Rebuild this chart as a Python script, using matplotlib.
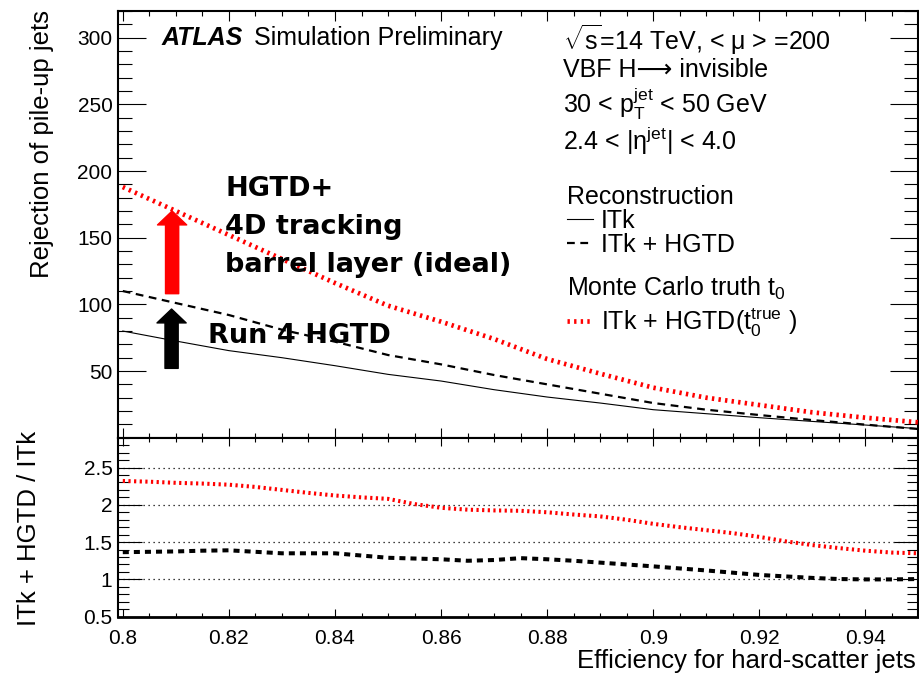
import matplotlib
matplotlib.use("Agg")
import matplotlib.pyplot as plt
from matplotlib.ticker import MultipleLocator, FuncFormatter
from matplotlib.lines import Line2D

plt.rcParams['font.family'] = ['Liberation Sans', 'DejaVu Sans']
plt.rcParams['mathtext.fontset'] = 'custom'
plt.rcParams['mathtext.rm'] = 'Liberation Sans'
plt.rcParams['mathtext.it'] = 'Liberation Sans:italic'
plt.rcParams['mathtext.bf'] = 'Liberation Sans:bold'

# ---------------- data ----------------
eff = [0.80, 0.81, 0.82, 0.83, 0.84, 0.85, 0.86, 0.87, 0.88, 0.89,
       0.90, 0.91, 0.92, 0.93, 0.94, 0.95]
rej_itk = [80, 72.5, 65.3, 60, 54, 47.5, 42.5, 36, 30.5, 26,
           21, 18, 15, 12.2, 9.5, 6.8]
rej_itk_hgtd = [110, 101, 92, 81, 72, 62, 55, 47, 40, 33,
                26, 21, 17, 13.2, 9.8, 6.5]
rej_itk_hgtd_true = [188, 170, 152, 134, 116, 99, 87, 74, 59, 48,
                     37.5, 30, 24.5, 19, 15, 11.5]

eff_ratio = [0.800, 0.805, 0.810, 0.815, 0.820, 0.825, 0.830, 0.835, 0.840, 0.845,
             0.850, 0.855, 0.860, 0.865, 0.870, 0.875, 0.880, 0.885, 0.890, 0.895,
             0.900, 0.905, 0.910, 0.915, 0.920, 0.925, 0.930, 0.935, 0.940, 0.945, 0.950]
ratio_hgtd = [1.365, 1.37, 1.375, 1.385, 1.39, 1.37, 1.35, 1.35, 1.35, 1.32,
              1.29, 1.28, 1.27, 1.25, 1.26, 1.285, 1.27, 1.25, 1.225, 1.20,
              1.175, 1.147, 1.12, 1.09, 1.06, 1.04, 1.02, 1.005, 1.0, 1.0, 1.005]
ratio_true = [2.32, 2.31, 2.295, 2.285, 2.27, 2.24, 2.20, 2.16, 2.125, 2.10,
              2.08, 2.01, 1.96, 1.935, 1.925, 1.92, 1.90, 1.87, 1.845, 1.80,
              1.745, 1.70, 1.66, 1.62, 1.57, 1.51, 1.46, 1.42, 1.385, 1.36, 1.35]

top_yticks = [50, 100, 150, 200, 250, 300]
ratio_yticks = [0.5, 1, 1.5, 2, 2.5]
x_ticks = [0.80, 0.82, 0.84, 0.86, 0.88, 0.90, 0.92, 0.94]

# ---------------- figure ----------------
W, H = 919, 676
fig = plt.figure(figsize=(W / 100, H / 100), dpi=100)

def fx(px):
    return px / W

def fy(py):
    return 1 - py / H

ax1 = fig.add_axes([fx(118), fy(437.7), 800 / W, (437.7 - 11) / H])
ax2 = fig.add_axes([fx(118), fy(616.7), 800 / W, (616.7 - 437.7) / H])

XMIN, XMAX = 0.7991, 0.9499

RED_LS = (0, (0.5, 0.9))
DASH_LS = (0, (3.5, 2.5))

# top panel
ax1.plot(eff, rej_itk, color='black', lw=0.8, zorder=3)
ax1.plot(eff, rej_itk_hgtd, color='black', lw=1.6, linestyle=DASH_LS, zorder=3)
ax1.plot(eff, rej_itk_hgtd_true, color='#ff0000', lw=3.4, linestyle=RED_LS,
         dash_capstyle='butt', zorder=3)
ax1.set_xlim(XMIN, XMAX)
ax1.set_ylim(0, 320)
ax1.set_yticks(top_yticks)
ax1.yaxis.set_minor_locator(MultipleLocator(10))
ax1.set_xticks(x_ticks)
ax1.xaxis.set_minor_locator(MultipleLocator(0.005))
ax1.tick_params(axis='x', labelbottom=False)
ax1.tick_params(which='both', direction='in', top=True, right=True, width=0.8)
ax1.tick_params(axis='y', which='major', length=20, labelsize=15, pad=4)
ax1.tick_params(axis='y', which='minor', length=10)
ax1.tick_params(axis='x', which='major', length=7)
ax1.tick_params(axis='x', which='minor', length=3.5)
for s in ax1.spines.values():
    s.set_linewidth(1.5)

# arrows
arrow_x = [0.8093, 0.8092]
arrow_tail = [108, 52]
arrow_tip = [170, 96.5]
arrow_col = ['#ff0000', 'black']
for xa, yt, yh, c in zip(arrow_x, arrow_tail, arrow_tip, arrow_col):
    ax1.annotate('', xy=(xa, yh), xytext=(xa, yt),
                 arrowprops=dict(arrowstyle='simple,head_length=1.0,head_width=2.1,tail_width=0.95',
                                 color=c, shrinkA=0, shrinkB=0, mutation_scale=10),
                 zorder=2)

# bottom panel
ax2.plot(eff_ratio, ratio_true, color='#ff0000', lw=2.9, linestyle=(0, (0.55, 0.85)),
         dash_capstyle='butt', zorder=3)
ax2.plot(eff_ratio, ratio_hgtd, color='black', lw=2.9, linestyle=(0, (1.5, 1.25)),
         dash_capstyle='butt', zorder=3)
ax2.set_xlim(XMIN, XMAX)
ax2.set_ylim(0.5, 2.9)
ax2.set_yticks(ratio_yticks)
ax2.yaxis.set_minor_locator(MultipleLocator(0.1))
ax2.yaxis.set_major_formatter(FuncFormatter(lambda v, p: '%g' % v))
ax2.set_xticks(x_ticks)
ax2.xaxis.set_major_formatter(FuncFormatter(lambda v, p: '%g' % round(v, 2)))
ax2.xaxis.set_minor_locator(MultipleLocator(0.005))
ax2.tick_params(which='both', direction='in', top=True, right=True, width=0.8)
ax2.tick_params(axis='y', which='major', length=17, labelsize=15, pad=4)
ax2.tick_params(axis='y', which='minor', length=8)
ax2.tick_params(axis='x', which='major', length=6, labelsize=15, pad=9)
ax2.tick_params(axis='x', which='minor', length=3)
for yv in ratio_yticks[1:]:
    ax2.axhline(yv, color='black', lw=0.9, linestyle=(0, (1, 3)), zorder=1)
for s in ax2.spines.values():
    s.set_linewidth(1.5)
ax2.spines['bottom'].set_linewidth(2)

# axis titles
fig.text(fx(42), fy(10), 'Rejection of pile-up jets', rotation=90, ha='center', va='top',
         fontsize=18.5)
fig.text(fx(29), fy(431), 'ITk + HGTD / ITk', rotation=90, ha='center', va='top',
         fontsize=18.5)
fig.text(fx(916), fy(668), 'Efficiency for hard-scatter jets', ha='right', va='baseline',
         fontsize=18.5)

# ATLAS label
fig.text(fx(162), fy(45), 'ATLAS', fontsize=18, fontweight='bold', fontstyle='italic',
         va='baseline')
fig.text(fx(254), fy(45), 'Simulation Preliminary', fontsize=18, va='baseline')

# info text
info_x = fx(563)
fig.text(info_x, fy(50), r'$\sqrt{\mathrm{s}}$=14 TeV, < μ > =200', fontsize=18, va='baseline')
fig.text(info_x, fy(77), 'VBF H⟶ invisible', fontsize=18, va='baseline')
fig.text(info_x, fy(113), r'30 < $\mathrm{p}_{\mathrm{T}}^{\mathrm{jet}}$ < 50 GeV', fontsize=18, va='baseline')
fig.text(info_x, fy(150), r'2.4 < |η$^{\mathrm{jet}}$| < 4.0', fontsize=18, va='baseline')

# HGTD annotation text
big = dict(fontsize=19.5, fontweight='bold', family='DejaVu Sans', va='baseline', zorder=1)
fig.text(fx(225), fy(196), 'HGTD+', **big)
fig.text(fx(225), fy(234), '4D tracking', **big)
fig.text(fx(225), fy(272), 'barrel layer (ideal)', **big)
fig.text(fx(208), fy(343), 'Run 4 HGTD', **big)

# legend headers
fig.text(fx(567), fy(204), 'Reconstruction', fontsize=18, va='baseline')
fig.text(fx(567), fy(296), r'Monte Carlo truth $\mathrm{t}_{0}$', fontsize=18, va='baseline')

# legends
h_itk = Line2D([], [], color='black', lw=0.8)
h_hgtd = Line2D([], [], color='black', lw=1.6, linestyle=DASH_LS)
h_true = Line2D([], [], color='#ff0000', lw=3.4, linestyle=RED_LS, dash_capstyle='butt')

leg_kw = dict(loc='upper left', bbox_transform=fig.transFigure, frameon=False, fontsize=18,
              handlelength=1.05, handletextpad=0.3, borderpad=0, borderaxespad=0)
leg1 = ax1.legend([h_itk, h_hgtd], ['ITk', 'ITk + HGTD'],
                  bbox_to_anchor=(fx(567), fy(209)), labelspacing=0.0, **leg_kw)
ax1.add_artist(leg1)
leg2 = ax1.legend([h_true], [r'ITk + HGTD($\mathrm{t}_{0}^{\mathrm{true}}$ )'],
                  bbox_to_anchor=(fx(567), fy(306)), labelspacing=0, **leg_kw)

fig.savefig('out.png', dpi=100)
